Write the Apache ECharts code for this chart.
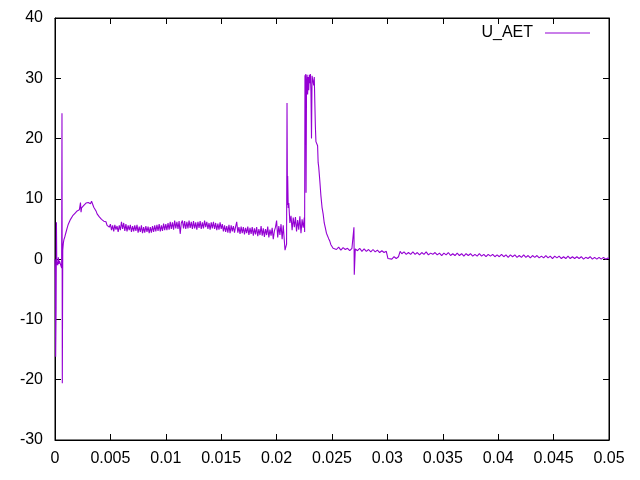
<!DOCTYPE html>
<html>
<head>
<meta charset="utf-8">
<script src="https://cdn.jsdelivr.net/npm/echarts@6/dist/echarts.min.js"></script>
<style>html,body{margin:0;padding:0;background:#fff}#c{width:640px;height:480px}</style>
</head>
<body>
<div id="c"></div>
<script>
var seriesName = 'U_AET';
var xTicks = [0, 0.005, 0.01, 0.015, 0.02, 0.025, 0.03, 0.035, 0.04, 0.045, 0.05];
var yTicks = [-30, -20, -10, 0, 10, 20, 30, 40];

var startup = [
[0,0],[0.00003,-3],[0.00006,-16.2],[0.0001,-8],[0.00013,6.1],[0.00016,-1],[0.0002,-0.5],[0.00025,-1],
[0.0003,0.3],[0.00035,-0.8],[0.0004,-0.3],[0.00045,0],[0.0005,-0.6],[0.00055,-0.2],[0.0006,-1.5],
[0.00063,24.2],[0.00066,-20.6],[0.0007,1.5],[0.00075,2.6],[0.0008,3.2],[0.0009,3.8],[0.001,4.5],
[0.0011,5.2],[0.0012,5.8],[0.0013,6.2],[0.0014,6.6],[0.0015,6.9],[0.0016,7.2],[0.0017,7.4],[0.0018,7.6],
[0.0019,7.8],[0.002,8.0],[0.0021,8.1],[0.0022,8.2],[0.0023,9.4],[0.00235,7.8],[0.0024,8.5],[0.0025,8.7],
[0.0026,8.9],[0.0027,9.0],[0.0028,9.3],[0.0029,9.1],[0.003,9.4],[0.0031,9.6],[0.0032,9.2],[0.0033,9.6],
[0.0034,9.5],[0.0035,8.6],[0.0036,8.3],[0.0037,8.0],[0.0038,7.5],[0.0039,7.3],[0.004,7.0],
[0.0041,7.0],[0.0042,6.6],[0.0043,6.8],[0.0044,6.3],[0.0045,6.0],[0.0046,6.2],[0.0047,5.6],[0.0048,5.8],[0.0049,5.3]
];

var plateau = [
[0.0050,5.8],[0.0051,4.8],[0.0052,5.6],[0.0053,4.6],[0.0054,5.7],[0.0055,4.9],[0.0056,5.5],[0.0057,4.5],[0.0058,5.6],[0.0059,4.8],
[0.0060,6.2],[0.0061,5.0],[0.0062,6.0],[0.0063,4.7],[0.0064,5.8],[0.0065,4.6],[0.0066,5.6],[0.0067,4.8],[0.0068,5.7],[0.0069,4.5],
[0.0070,5.5],[0.0071,4.6],[0.0072,5.6],[0.0073,4.7],[0.0074,5.7],[0.0075,4.4],[0.0076,5.4],[0.0077,4.5],[0.0078,5.6],[0.0079,4.3],
[0.0080,5.3],[0.0081,4.4],[0.0082,5.5],[0.0083,4.5],[0.0084,5.4],[0.0085,4.3],[0.0086,5.3],[0.0087,4.4],[0.0088,5.5],[0.0089,4.5],
[0.0090,5.6],[0.0091,4.6],[0.0092,5.7],[0.0093,4.7],[0.0094,5.8],[0.0095,4.6],[0.0096,5.6],[0.0097,4.7],[0.0098,5.9],[0.0099,4.8],
[0.0100,5.8],[0.0101,4.8],[0.0102,6.0],[0.0103,4.9],[0.0104,6.2],[0.0105,5.0],[0.0106,6.1],[0.0107,4.9],[0.0108,6.4],[0.0109,5.1],
[0.0110,6.2],[0.0111,5.0],[0.0112,6.3],[0.0113,4.2],[0.0114,6.0],[0.0115,6.4],[0.0116,5.1],[0.0117,6.3],[0.0118,5.0],[0.0119,6.2],
[0.0120,5.1],[0.0121,6.4],[0.0122,5.2],[0.0123,6.2],[0.0124,5.0],[0.0125,6.3],[0.0126,5.1],[0.0127,6.1],[0.0128,4.9],[0.0129,6.2],
[0.0130,5.2],[0.0131,6.3],[0.0132,5.0],[0.0133,6.1],[0.0134,5.1],[0.0135,6.4],[0.0136,5.3],[0.0137,6.2],[0.0138,5.0],[0.0139,6.0],
[0.0140,4.9],[0.0141,6.1],[0.0142,5.1],[0.0143,6.2],[0.0144,5.0],[0.0145,6.0],[0.0146,4.8],[0.0147,5.9],[0.0148,4.9],[0.0149,6.1],
[0.0150,5.0],[0.0151,5.8],[0.0152,4.6],[0.0153,5.6],[0.0154,4.5],[0.0155,5.5],[0.0156,4.4],[0.0157,5.7],[0.0158,4.3],[0.0159,5.6],
[0.0160,4.6],[0.0161,5.5],[0.0162,4.4],[0.0163,5.4],[0.0164,6.2],[0.0165,4.4],[0.0166,5.3],[0.0167,4.2],[0.0168,5.4],[0.0169,4.3],
[0.0170,5.3],[0.0171,4.1],[0.0172,5.2],[0.0173,4.3],[0.0174,5.4],[0.0175,4.0],[0.0176,5.2],[0.0177,4.2],[0.0178,5.3],[0.0179,3.9],
[0.0180,5.1],[0.0181,4.1],[0.0182,5.3],[0.0183,3.8],[0.0184,5.0],[0.0185,4.0],[0.0186,5.5],[0.0187,3.9],[0.0188,5.1],[0.0189,3.7],
[0.0190,5.0],[0.0191,4.0],[0.0192,5.4],[0.0193,3.6],[0.0194,4.9],[0.0195,3.9],[0.0196,5.2],[0.0197,3.3],[0.0198,4.7],[0.0199,5.3],
[0.0200,6.4],[0.0201,3.6],[0.0202,5.5],[0.0203,4.0],[0.0204,5.8],[0.0205,3.3],[0.0206,5.6],[0.0207,3.0]
];

var burst = [
[0.02076,1.5],[0.0209,2.5],[0.02094,25.9],[0.02098,9.0],[0.0210,13.8],[0.02105,8.5],[0.0211,9.3],[0.0212,6.0],
[0.0213,7.2],[0.0214,4.8],[0.0215,6.9],[0.0216,5.3],[0.0217,7.0],[0.0218,4.6],[0.0219,6.5],[0.0220,4.9],
[0.0221,7.1],[0.0222,4.3],[0.0223,6.6],[0.0224,5.2],[0.0225,6.9],[0.02253,4.5],[0.02256,30.5],[0.0226,22.0],
[0.02263,30.7],[0.02266,11.0],[0.0227,28.5],[0.02275,30.6],[0.0228,27.3],[0.02285,30.2],[0.0229,28.0],[0.02295,30.6],
[0.0230,29.2],[0.02305,30.7],[0.0231,27.8],[0.02315,20.0],[0.0232,30.4],[0.02325,30.7],[0.0233,30.5],[0.02335,28.8],
[0.0234,30.2],[0.02345,26.0],[0.0235,22.0],[0.02355,19.5],[0.0236,19.2],[0.0237,18.8],[0.02375,16.0],[0.0238,15.3],
[0.0239,13.0],[0.0240,10.5],[0.02405,10.2],[0.0241,8.6],[0.0242,7.5],[0.0243,6.0],[0.0244,5.2],[0.0245,4.3],
[0.0246,4.6],[0.0247,3.4],[0.0248,3.0],[0.0249,2.4],[0.0250,2.6],[0.0251,1.8]
];

var tail = [
[0.0252,1.9],[0.0254,1.6],[0.0256,2.0],[0.0258,1.5],[0.0260,1.9],[0.0262,1.6],[0.0264,1.8],[0.0266,1.4],[0.0268,1.8],[0.02695,1.5],
[0.02698,5.3],[0.02701,-2.6],[0.0271,1.7],[0.0273,1.4],[0.0275,1.8],[0.0277,1.3],[0.0279,1.7],[0.0281,1.3],[0.0283,1.6],[0.0285,1.2],
[0.0287,1.6],[0.0289,1.2],[0.0291,1.5],[0.0293,1.1],[0.0295,1.4],[0.0297,1.1],[0.0299,1.3],[0.0300,1.2],[0.03005,0.1],[0.0302,0.4],
[0.0304,0.0],[0.0306,0.4],[0.0308,0.1],[0.0310,0.4],[0.0311,0.2],[0.03115,1.3],[0.0313,0.9],[0.0315,1.2],[0.0317,0.8],[0.0319,1.1],
[0.0321,0.8],[0.0323,1.2],[0.0325,0.8],[0.0327,1.1],[0.0329,0.7],[0.0331,1.1],[0.0333,0.8],[0.0335,1.2],[0.0337,0.7],[0.0339,1.0],
[0.0341,0.8],[0.0343,1.1],[0.0345,0.7],[0.0347,1.0],[0.0349,0.6],[0.0351,1.0],[0.0353,0.7],[0.0355,1.1],[0.0357,0.6],[0.0359,0.9],
[0.0361,0.6],[0.0363,1.0],[0.0365,0.6],[0.0367,0.9],[0.0369,0.5],[0.0371,0.9],[0.0373,0.6],[0.0375,0.9],[0.0377,0.5],[0.0379,0.8],
[0.0381,0.5],[0.0383,0.9],[0.0385,0.5],[0.0387,0.8],[0.0389,0.4],[0.0391,0.8],[0.0393,0.5],[0.0395,0.8],[0.0397,0.4],[0.0399,0.7],
[0.0401,0.4],[0.0403,0.8],[0.0405,0.4],[0.0407,0.7],[0.0409,0.3],[0.0411,0.7],[0.0413,0.4],[0.0415,0.7],[0.0417,0.3],[0.0419,0.6],
[0.0421,0.3],[0.0423,0.7],[0.0425,0.3],[0.0427,0.6],[0.0429,0.2],[0.0431,0.6],[0.0433,0.3],[0.0435,0.6],[0.0437,0.2],[0.0439,0.5],
[0.0441,0.2],[0.0443,0.6],[0.0445,0.2],[0.0447,0.5],[0.0449,0.1],[0.0451,0.5],[0.0453,0.2],[0.0455,0.5],[0.0457,0.1],[0.0459,0.4],
[0.0461,0.1],[0.0463,0.5],[0.0465,0.1],[0.0467,0.4],[0.0469,0.1],[0.0471,0.4],[0.0473,0.1],[0.0475,0.4],[0.0477,0.0],[0.0479,0.3],
[0.0481,0.1],[0.0483,0.4],[0.0485,0.0],[0.0487,0.3],[0.0489,0.0],[0.0491,0.3],[0.0493,0.0],[0.0495,0.3],[0.0497,0.0],[0.0499,0.2],
[0.0500,0.1]
];

var allData = startup.concat(plateau, burst, tail);

function fmt(v) { return String(Number(v.toFixed(4))); }

var font = 'Liberation Sans, Arial, sans-serif';
var axisCommon = function (extra) {
  var base = {
    type: 'value',
    axisLine: {show: true, onZero: false, lineStyle: {color: '#000'}},
    axisTick: {show: true, inside: true, length: 6, lineStyle: {color: '#000'}},
    splitLine: {show: false}
  };
  for (var k in extra) base[k] = extra[k];
  return base;
};
var chart = echarts.init(document.getElementById('c'), null, {renderer: 'canvas'});
chart.setOption({
  animation: false,
  backgroundColor: '#ffffff',
  grid: {left: 55, right: 31, top: 18, bottom: 40, show: true, borderColor: '#000', borderWidth: 1, containLabel: false},
  legend: {
    show: true, data: [{name: seriesName}], right: 45, top: 20, align: 'right',
    icon: 'rect', itemWidth: 45, itemHeight: 1,
    textStyle: {color: '#000', fontSize: 16, fontFamily: font, padding: [0, 7, 0, 0]}
  },
  xAxis: [
    axisCommon({position: 'bottom', min: xTicks[0], max: xTicks[xTicks.length - 1], interval: 0.005,
      axisLabel: {color: '#000', fontSize: 16, fontFamily: font, margin: 11, formatter: fmt}}),
    axisCommon({position: 'top', min: xTicks[0], max: xTicks[xTicks.length - 1], interval: 0.005,
      axisLabel: {show: false}})
  ],
  yAxis: [
    axisCommon({position: 'left', min: yTicks[0], max: yTicks[yTicks.length - 1], interval: 10,
      axisLabel: {color: '#000', fontSize: 16, fontFamily: font, margin: 12}}),
    axisCommon({position: 'right', min: yTicks[0], max: yTicks[yTicks.length - 1], interval: 10,
      axisLabel: {show: false}})
  ],
  series: [{
    name: seriesName, type: 'line', data: allData, xAxisIndex: 0, yAxisIndex: 0,
    showSymbol: false, symbol: 'none', sampling: null,
    lineStyle: {color: '#9400D3', width: 1.1}, itemStyle: {color: '#9400D3'}
  }]
});
</script>
</body>
</html>
